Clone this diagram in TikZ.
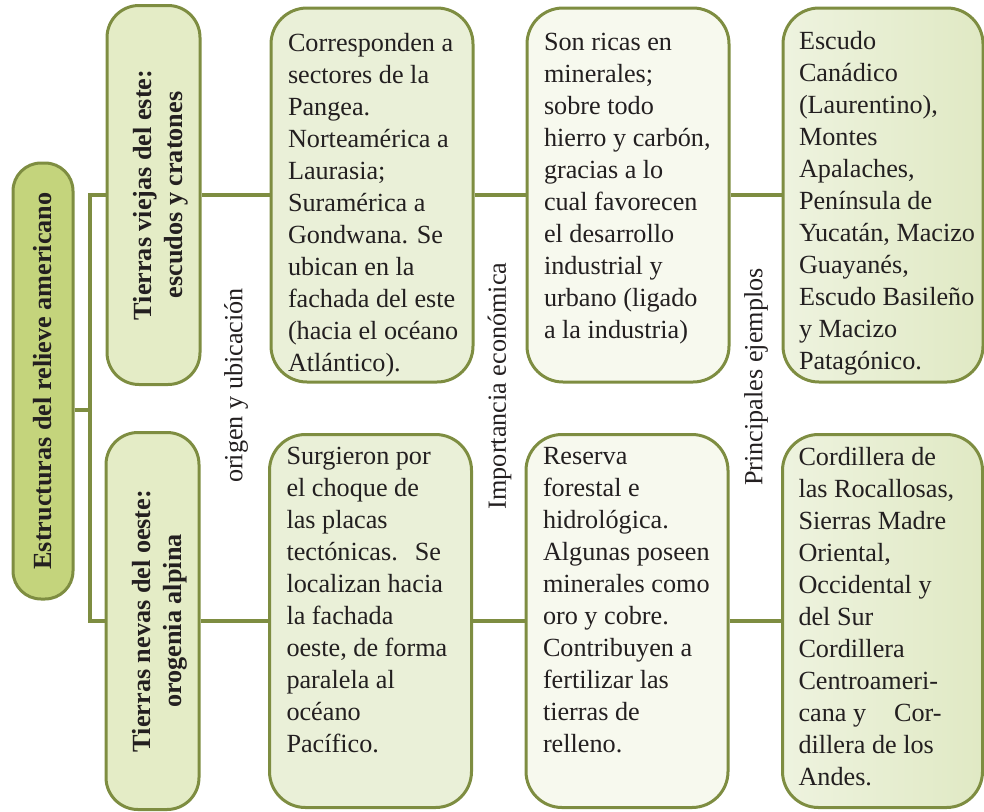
\documentclass[tikz,border=0pt]{standalone}
\usepackage{fontspec}
\setmainfont{Liberation Serif}
\usepackage{graphicx}
\usepackage{xcolor}
\usepackage{tikz}

\definecolor{oliveline}{HTML}{7E8D41}
\definecolor{rootfill}{HTML}{C4D47C}
\definecolor{branchfill}{HTML}{E4ECC6}
\definecolor{originfill}{HTML}{EAF0D8}
\definecolor{econfill}{HTML}{F7F9EE}
\definecolor{exampleleft}{HTML}{EEF3DF}
\definecolor{exampleright}{HTML}{E0E9C4}
\definecolor{textgray}{HTML}{231F20}

% top aligned text inside a detail box
\newcommand{\infotext}[2]{\parbox[c][#1][t]{200pt}{\raggedright\leftskip=16pt\relax #2}}

\begin{document}
\begin{tikzpicture}[x=1pt, y=-1pt,
    every node/.style={text=textgray},
    rootbox/.style={draw=oliveline, line width=3pt, fill=rootfill, rounded corners=28pt,
        minimum width=60pt, minimum height=436pt, inner sep=0pt,
        font=\fontsize{26.2}{31}\selectfont\bfseries},
    branchbox/.style={draw=oliveline, line width=3pt, fill=branchfill, rounded corners=32pt,
        minimum width=93pt, inner sep=0pt, font=\fontsize{26.2}{31}\selectfont\bfseries},
    infobox/.style={draw=oliveline, line width=3pt, rounded corners=36pt,
        minimum width=202pt, inner sep=0pt, font=\fontsize{26.2}{32}\selectfont},
    relation/.style={rotate=90, inner sep=0pt, font=\fontsize{26.2}{32}\selectfont},
    link/.style={draw=oliveline, line width=4pt}]

    \useasboundingbox (0,0) rectangle (984,811);

    % Root
    \node[rootbox] (root) at (43,381) {\rotatebox{90}{Estructuras del relieve americano}};

    % Branches
    \node[branchbox, minimum height=379pt] (old) at (153.5,195)
        {\hspace*{14pt}\rotatebox{90}{\begin{tabular}{@{}c@{}}Tierras viejas del este:\\escudos y cratones\end{tabular}}};
    \node[branchbox, minimum height=377pt] (young) at (152.5,621)
        {\hspace*{14pt}\rotatebox{90}{\begin{tabular}{@{}c@{}}Tierras nevas del oeste:\\orogenia alpina\end{tabular}}};

    % Trunk
    \coordinate (trunk) at (90,410);
    \draw[link] (root.east |- trunk) -- (trunk);
    \draw[link] (old.west) -| (trunk) |- (young.west);

    % Old lands
    \node[infobox, fill=originfill, minimum height=374pt] (oldorigin) at (372,195)
        {\infotext{324pt}{Corresponden a\\sectores de la\\Pangea.\\Norteamérica a\\Laurasia;\\Suramérica a\\Gondwana. Se\\ubican en la\\fachada del este\\(hacia el océano\\Atlántico).}};
    \node[infobox, fill=econfill, minimum height=374pt] (oldeconomy) at (628,195)
        {\infotext{324pt}{Son ricas en\\minerales;\\sobre todo\\hierro y carbón,\\gracias a lo\\cual favorecen\\el desarrollo\\industrial y\\urbano (ligado\\a la industria)}};
    \node[infobox, left color=exampleleft, right color=exampleright, minimum width=200pt, minimum height=374pt] (oldexample) at (883,195)
        {\infotext{328pt}{Escudo\\Canádico\\(Laurentino),\\Montes\\Apalaches,\\Península de\\Yucatán, Macizo\\Guayanés,\\Escudo Basileño\\y Macizo\\Patagónico.}};

    % Young lands
    \node[infobox, fill=originfill, minimum height=373pt] (youngorigin) at (370.5,621)
        {\infotext{347pt}{Surgieron por\\el choque de\\las placas\\tectónicas.\hspace{17pt}Se\\localizan hacia\\la fachada\\oeste, de forma\\paralela al\\océano\\Pacífico.}};
    \node[infobox, fill=econfill, minimum height=373pt] (youngeconomy) at (627,621)
        {\infotext{347pt}{Reserva\\forestal e\\hidrológica.\\Algunas poseen\\minerales como\\oro y cobre.\\Contribuyen a\\fertilizar las\\tierras de\\relleno.}};
    \node[infobox, left color=exampleleft, right color=exampleright, minimum width=200pt, minimum height=373pt] (youngexample) at (882.5,621)
        {\infotext{347pt}{Cordillera de\\las Rocallosas,\\Sierras Madre\\Oriental,\\Occidental y\\del Sur\\Cordillera\\Centroameri-\\cana y\hspace{28pt}Cor-\\dillera de los\\Andes.}};

    % Links
    \draw[link] (old.east) -- (oldorigin.west);
    \draw[link] (oldorigin.east) -- (oldeconomy.west);
    \draw[link] (oldeconomy.east) -- (oldexample.west);
    \draw[link] (young.east) -- (youngorigin.west);
    \draw[link] (youngorigin.east) -- (youngeconomy.west);
    \draw[link] (youngeconomy.east) -- (youngexample.west);

    % Relations
    \node[relation] (lorigin) at (236,385.5) {origen y ubicación};
    \node[relation] (leconomy) at (499.5,386) {Importancia económica};
    \node[relation] (lexample) at (756,377) {Principales ejemplos};
\end{tikzpicture}
\end{document}
